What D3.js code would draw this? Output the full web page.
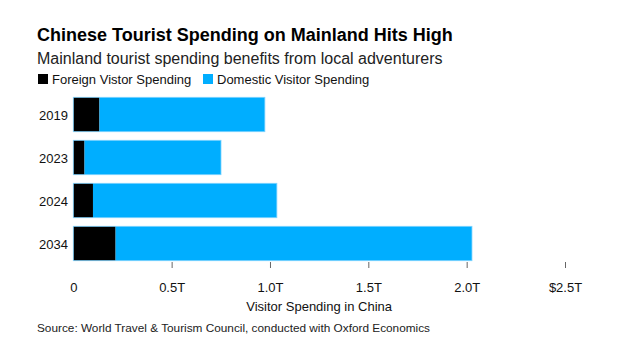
<!DOCTYPE html>
<html>
<head>
<meta charset="utf-8">
<script src="https://cdn.jsdelivr.net/npm/d3@7"></script>
<style>
  body { margin: 0; background: #fff; }
  text { font-family: "Liberation Sans", Arial, sans-serif; }
</style>
</head>
<body>
<div id="chart-area"></div>
<script>
const years = ["2019", "2023", "2024", "2034"];
const foreign = [0.133, 0.057, 0.100, 0.215];
const domestic = [0.841, 0.694, 0.935, 1.812];
const seriesNames = ["Foreign Vistor Spending", "Domestic Visitor Spending"];
const tickValues = [0, 0.5, 1.0, 1.5, 2.0, 2.5];
const tickLabels = ["0", "0.5T", "1.0T", "1.5T", "2.0T", "$2.5T"];

const W = 628, H = 354;
const colors = ["#000000", "#00aeff"];

const svg = d3.select("#chart-area")
  .append("svg")
  .attr("width", W)
  .attr("height", H);

const x = d3.scaleLinear().domain([0, 2.5]).range([73.3, 565]);
const y = d3.scaleBand().domain(years).range([93, 265]).paddingInner(0.2).paddingOuter(0.1);

// titles
svg.append("text")
  .attr("x", 37).attr("y", 41)
  .attr("font-size", "18px").attr("font-weight", "bold")
  .attr("fill", "#000")
  .text("Chinese Tourist Spending on Mainland Hits High");

svg.append("text")
  .attr("x", 37).attr("y", 64)
  .attr("font-size", "16px")
  .attr("fill", "#222")
  .text("Mainland tourist spending benefits from local adventurers");

// legend
const legendX = [38, 203];
seriesNames.forEach((name, i) => {
  svg.append("rect")
    .attr("x", legendX[i]).attr("y", 74)
    .attr("width", 10).attr("height", 10)
    .attr("fill", colors[i]);
  svg.append("text")
    .attr("x", legendX[i] + 14).attr("y", 84)
    .attr("font-size", "13px")
    .attr("fill", "#111")
    .text(name);
});

// stacked bars
const rows = years.map((yr, i) => ({ year: yr, foreign: foreign[i], domestic: domestic[i] }));
const stack = d3.stack().keys(["foreign", "domestic"])(rows);

svg.append("g")
  .selectAll("g")
  .data(stack)
  .join("g")
  .attr("fill", (d, i) => colors[i])
  .selectAll("rect")
  .data(d => d)
  .join("rect")
  .attr("x", d => x(d[0]))
  .attr("y", d => y(d.data.year))
  .attr("width", d => x(d[1]) - x(d[0]))
  .attr("height", y.bandwidth());

// thin light outline round each bar
svg.append("g")
  .selectAll("rect")
  .data(rows)
  .join("rect")
  .attr("x", x(0))
  .attr("y", d => y(d.year))
  .attr("width", d => x(d.foreign + d.domestic) - x(0))
  .attr("height", y.bandwidth())
  .attr("fill", "none")
  .attr("stroke", "#7fd3ff")
  .attr("stroke-width", 0.8);

// y labels
svg.append("g")
  .selectAll("text")
  .data(years)
  .join("text")
  .attr("x", 68)
  .attr("y", d => y(d) + y.bandwidth() / 2 + 5)
  .attr("text-anchor", "end")
  .attr("font-size", "13px")
  .attr("fill", "#111")
  .text(d => d);

// x axis
const xAxis = d3.axisBottom(x)
  .tickValues(tickValues)
  .tickFormat((d, i) => tickLabels[i])
  .tickSize(6)
  .tickPadding(15);

const xAxisGroup = svg.append("g")
  .attr("transform", "translate(0,262)")
  .call(xAxis);

xAxisGroup.select(".domain").remove();
xAxisGroup.selectAll(".tick line").attr("stroke", "#666");
xAxisGroup.selectAll(".tick").filter(d => d === 0).select("line").remove();
xAxisGroup.selectAll(".tick text")
  .attr("font-size", "13px")
  .attr("font-family", "Liberation Sans, Arial, sans-serif")
  .attr("fill", "#111");

svg.append("text")
  .attr("x", (x(0) + x(2.5)) / 2).attr("y", 311)
  .attr("text-anchor", "middle")
  .attr("font-size", "13px")
  .attr("fill", "#111")
  .text("Visitor Spending in China");

svg.append("text")
  .attr("x", 37).attr("y", 332)
  .attr("font-size", "11.8px")
  .attr("fill", "#222")
  .text("Source: World Travel & Tourism Council, conducted with Oxford Economics");
</script>
</body>
</html>
